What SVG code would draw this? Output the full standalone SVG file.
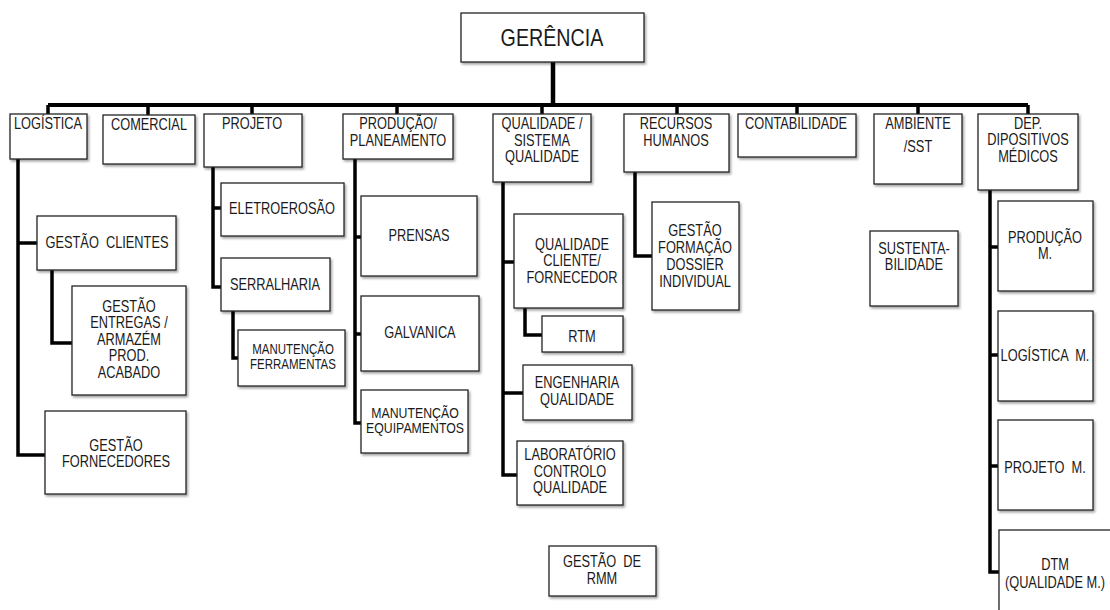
<svg xmlns="http://www.w3.org/2000/svg" width="1110" height="610" viewBox="0 0 1110 610">
<defs>
<filter id="sh" x="-10%" y="-10%" width="130%" height="130%">
<feDropShadow dx="1.5" dy="2" stdDeviation="1.2" flood-color="#000" flood-opacity="0.35"/>
</filter>
<style>
.b{fill:#fff;stroke:#222;stroke-width:1.3;filter:url(#sh)}
.t{font-family:"Liberation Sans",Arial,sans-serif;font-size:16px;fill:#1a1a1a;text-anchor:middle}
.m{font-size:15px}
.s{font-size:14px}
.big{font-size:24px}
.c{fill:none;stroke:#000;stroke-width:3.5;stroke-linejoin:miter}
</style>
</defs>
<rect width="1110" height="610" fill="#fff"/>
<g id="connectors">
<path class="c" d="M553,62 V105" style="stroke-width:4.5"/>
<path class="c" d="M48,105 H1028" style="stroke-width:4"/>
<path class="c" d="M48,105 V114 M148,105 V115 M252,105 V114 M397,105 V114 M542,105 V114 M677,105 V114 M797,105 V114 M918,105 V114 M1028,105 V114"/>
<path class="c" d="M18,159 V455 H45 M18,243 H37 M52,270 V343 H72"/>
<path class="c" d="M213,167 V287 H221 M213,208 H221 M233,311 V358 H238"/>
<path class="c" d="M355,159 V423 H361 M355,237 H361 M355,334 H361"/>
<path class="c" d="M503,182 V475 H517 M503,262 H514 M503,393 H523 M525,308 V335 H542"/>
<path class="c" d="M635,172 V256 H652"/>
<path class="c" d="M990,190 V572 H999 M990,247 H998 M990,355 H998 M990,466 H998"/>
</g>
<g id="gerencia"><rect class="b" x="461" y="13" width="183" height="49"/><text class="t big" transform="translate(552 46) scale(.82 1)">GERÊNCIA</text></g>
<g id="logistica"><rect class="b" x="10" y="114" width="77" height="45"/><text class="t" transform="translate(48 129) scale(.8 1)">LOGÍSTICA</text></g>
<g id="comercial"><rect class="b" x="103" y="115" width="92" height="49"/><text class="t" transform="translate(149 130) scale(.8 1)">COMERCIAL</text></g>
<g id="projeto"><rect class="b" x="204" y="114" width="98" height="53"/><text class="t" transform="translate(252 129) scale(.8 1)">PROJETO</text></g>
<g id="producao"><rect class="b" x="343" y="114" width="110" height="45"/><text class="t" transform="translate(398 129) scale(.8 1)">PRODUÇÃO/</text><text class="t" transform="translate(398 146) scale(.8 1)">PLANEAMENTO</text></g>
<g id="qualidade"><rect class="b" x="493" y="114" width="98" height="68"/><text class="t" transform="translate(542 129) scale(.8 1)">QUALIDADE /</text><text class="t" transform="translate(542 146) scale(.8 1)">SISTEMA</text><text class="t" transform="translate(542 162) scale(.8 1)">QUALIDADE</text></g>
<g id="recursos"><rect class="b" x="624" y="114" width="105" height="58"/><text class="t" transform="translate(676 129) scale(.8 1)">RECURSOS</text><text class="t" transform="translate(676 146) scale(.8 1)">HUMANOS</text></g>
<g id="contabilidade"><rect class="b" x="738" y="114" width="118" height="43"/><text class="t" transform="translate(796 129) scale(.8 1)">CONTABILIDADE</text></g>
<g id="ambiente"><rect class="b" x="874" y="114" width="88" height="70"/><text class="t" transform="translate(918 129) scale(.8 1)">AMBIENTE</text><text class="t" transform="translate(918 152) scale(.8 1)">/SST</text></g>
<g id="dep"><rect class="b" x="978" y="114" width="100" height="76"/><text class="t" transform="translate(1028 129) scale(.8 1)">DEP.</text><text class="t" transform="translate(1028 145) scale(.8 1)">DIPOSITIVOS</text><text class="t" transform="translate(1028 162) scale(.8 1)">MÉDICOS</text></g>
<g id="gestao-clientes"><rect class="b" x="37" y="216" width="139" height="54"/><text class="t" transform="translate(107 248) scale(.8 1)" xml:space="preserve">GESTÃO  CLIENTES</text></g>
<g id="gestao-entregas"><rect class="b" x="72" y="286" width="114" height="109"/><text class="t" transform="translate(129 312) scale(.8 1)">GESTÃO</text><text class="t" transform="translate(129 328) scale(.8 1)">ENTREGAS /</text><text class="t" transform="translate(129 345) scale(.8 1)">ARMAZÉM</text><text class="t" transform="translate(129 361) scale(.8 1)">PROD.</text><text class="t" transform="translate(129 378) scale(.8 1)">ACABADO</text></g>
<g id="gestao-fornecedores"><rect class="b" x="45" y="411" width="141" height="83"/><text class="t" transform="translate(116 451) scale(.8 1)">GESTÃO</text><text class="t" transform="translate(116 467) scale(.8 1)">FORNECEDORES</text></g>
<g id="eletroerosao"><rect class="b" x="221" y="183" width="123" height="53"/><text class="t" transform="translate(282 214) scale(.8 1)">ELETROEROSÃO</text></g>
<g id="serralharia"><rect class="b" x="221" y="258" width="109" height="53"/><text class="t" transform="translate(275 290) scale(.8 1)">SERRALHARIA</text></g>
<g id="manutencao-ferramentas"><rect class="b" x="238" y="330" width="107" height="56"/><text class="t s" transform="translate(293 354) scale(.82 1)">MANUTENÇÃO</text><text class="t s" transform="translate(293 369) scale(.82 1)">FERRAMENTAS</text></g>
<g id="prensas"><rect class="b" x="361" y="196" width="116" height="80"/><text class="t" transform="translate(419 241) scale(.8 1)">PRENSAS</text></g>
<g id="galvanica"><rect class="b" x="361" y="296" width="118" height="75"/><text class="t" transform="translate(420 338) scale(.8 1)">GALVANICA</text></g>
<g id="manutencao-equipamentos"><rect class="b" x="361" y="390" width="107" height="63"/><text class="t m" transform="translate(415 418) scale(.82 1)">MANUTENÇÃO</text><text class="t m" transform="translate(415 433) scale(.82 1)">EQUIPAMENTOS</text></g>
<g id="qualidade-cliente"><rect class="b" x="514" y="214" width="109" height="94"/><text class="t" transform="translate(572 250) scale(.8 1)">QUALIDADE</text><text class="t" transform="translate(572 266) scale(.8 1)">CLIENTE/</text><text class="t" transform="translate(572 283) scale(.8 1)">FORNECEDOR</text></g>
<g id="rtm"><rect class="b" x="542" y="316" width="81" height="36"/><text class="t" transform="translate(582 342) scale(.8 1)">RTM</text></g>
<g id="engenharia"><rect class="b" x="523" y="365" width="109" height="55"/><text class="t" transform="translate(577 388) scale(.8 1)">ENGENHARIA</text><text class="t" transform="translate(577 405) scale(.8 1)">QUALIDADE</text></g>
<g id="laboratorio"><rect class="b" x="517" y="441" width="106" height="64"/><text class="t" transform="translate(570 460) scale(.8 1)">LABORATÓRIO</text><text class="t" transform="translate(570 477) scale(.8 1)">CONTROLO</text><text class="t" transform="translate(570 493) scale(.8 1)">QUALIDADE</text></g>
<g id="gestao-rmm"><rect class="b" x="549" y="546" width="107" height="50"/><text class="t" transform="translate(602 567) scale(.8 1)" xml:space="preserve">GESTÃO  DE</text><text class="t" transform="translate(602 584) scale(.8 1)">RMM</text></g>
<g id="gestao-formacao"><rect class="b" x="652" y="202" width="87" height="108"/><text class="t" transform="translate(695 236) scale(.8 1)">GESTÃO</text><text class="t" transform="translate(695 253) scale(.8 1)">FORMAÇÃO</text><text class="t" transform="translate(695 270) scale(.8 1)">DOSSIER</text><text class="t" transform="translate(695 287) scale(.8 1)">INDIVIDUAL</text></g>
<g id="sustentabilidade"><rect class="b" x="870" y="231" width="88" height="75"/><text class="t" transform="translate(914 254) scale(.8 1)">SUSTENTA-</text><text class="t" transform="translate(914 270) scale(.8 1)">BILIDADE</text></g>
<g id="producao-m"><rect class="b" x="998" y="201" width="95" height="90"/><text class="t" transform="translate(1045 243) scale(.8 1)">PRODUÇÃO</text><text class="t" transform="translate(1045 259) scale(.8 1)">M.</text></g>
<g id="logistica-m"><rect class="b" x="998" y="311" width="95" height="90"/><text class="t" transform="translate(1045 361) scale(.8 1)" xml:space="preserve">LOGÍSTICA  M.</text></g>
<g id="projeto-m"><rect class="b" x="998" y="420" width="95" height="90"/><text class="t" transform="translate(1045 473) scale(.8 1)" xml:space="preserve">PROJETO  M.</text></g>
<g id="dtm"><rect class="b" x="999" y="530" width="120" height="100"/><text class="t" transform="translate(1055 570) scale(.8 1)">DTM</text><text class="t" transform="translate(1055 588) scale(.8 1)">(QUALIDADE M.)</text></g>
</svg>
